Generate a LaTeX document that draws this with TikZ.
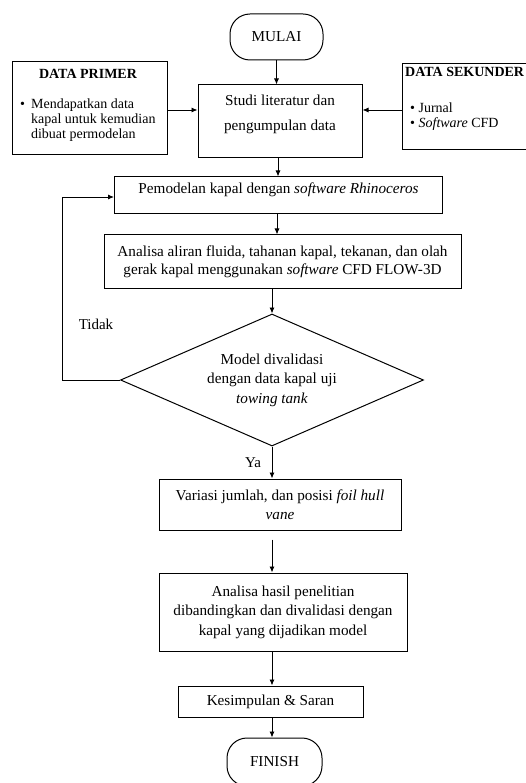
\documentclass[tikz,border=0pt]{standalone}
\usepackage{fontspec}
\setmainfont{Liberation Serif}
\usetikzlibrary{calc}
\usetikzlibrary{positioning}
\usetikzlibrary{arrows.meta}
\usetikzlibrary{shapes.geometric}

\tikzset{
    kotak/.style={draw, line width=1pt, inner sep=0pt, align=center,
        font=\fontsize{15.2}{19.5}\selectfont},
    terminal/.style={kotak, rounded corners=20pt},
    keputusan/.style={kotak, diamond, aspect=2.3},
    panah/.style={line width=0.9pt, -{Latex[length=6pt,width=5pt]}},
    judul/.style={inner sep=0pt, font=\fontsize{14}{16}\selectfont\bfseries},
    isi/.style={inner sep=0pt, align=left, font=\fontsize{14}{15}\selectfont},
    ket/.style={inner sep=0pt, font=\fontsize{15}{17}\selectfont}
}

\begin{document}
\begin{tikzpicture}[x=1pt,y=-1pt]
                \useasboundingbox (0,0) rectangle (525,783);

                \node[terminal, minimum width=93pt, minimum height=46pt] (mulai) at (276.5,37) {MULAI};
                \node[kotak, minimum width=155pt, minimum height=93pt] (primer) at (89.5,108.5) {};
                \node[kotak, minimum width=164pt, minimum height=73pt, text depth=17pt, font=\fontsize{15.2}{25}\selectfont] (studi) at (280,121.5) {Studi literatur dan\\pengumpulan data};
                \node[kotak, minimum width=128pt, minimum height=86pt] (sekunder) at (466,107) {};

                \node[judul] (judulprimer) at (88,74) {DATA PRIMER};
                \node[isi, anchor=west] (isiprimer) at (20,120) {\textbullet\hspace{6pt}Mendapatkan data\\\phantom{\textbullet}\hspace{6pt}kapal untuk kemudian\\\phantom{\textbullet}\hspace{6pt}dibuat permodelan};
                \node[judul, anchor=west] (judulsekunder) at (405,72) {DATA SEKUNDER};
                \node[isi, anchor=west] (isisekunder) at (410,117) {\textbullet\ Jurnal\\\textbullet\ \textit{Software} CFD};

                \node[kotak, minimum width=328pt, minimum height=37pt, text depth=14pt] (pemodel) at (278.5,195.5) {Pemodelan kapal dengan \textit{software Rhinoceros}};
                \node[kotak, minimum width=357pt, minimum height=53pt, font=\fontsize{15.2}{18}\selectfont] (analisa) at (282.5,261.5) {Analisa aliran fluida, tahanan kapal, tekanan, dan olah\\gerak kapal menggunakan \textit{software} CFD FLOW-3D};
                \node[keputusan, minimum width=303pt, minimum height=132pt] (valid) at (272,380) {Model divalidasi\\dengan data kapal uji\\\textit{towing tank}};
                \node[kotak, minimum width=242pt, minimum height=51pt] (variasi) at (280,504.5) {Variasi jumlah, dan posisi \textit{foil hull}\\\textit{vane}};
                \node[kotak, minimum width=248pt, minimum height=78pt] (hasil) at (283,612) {Analisa hasil penelitian\\dibandingkan dan divalidasi dengan\\kapal yang dijadikan model};
                \node[kotak, minimum width=185pt, minimum height=31pt] (simpul) at (270.5,701.5) {Kesimpulan \& Saran};
                \node[terminal, minimum width=95pt, minimum height=48pt] (finish) at (274.5,762) {FINISH};

                \node[ket] (ya) at (253,463) {Ya};
                \node[ket] (tidak) at (96,324) {Tidak};
                \coordinate (belok) at (62,197);

                \draw[panah] (mulai.south) -- (mulai.south |- studi.north);
                \draw[panah] (primer.east |- 0,110) -- (studi.west |- 0,110);
                \draw[panah] (sekunder.west |- 0,110) -- (studi.east |- 0,110);
                \draw[panah] (studi.south -| 278,0) -- (pemodel.north -| 278,0);
                \draw[panah] (pemodel.south -| 277,0) -- (analisa.north -| 277,0);
                \draw[panah] (analisa.south -| valid.north) -- (valid.north);
                \draw[panah] (valid.south) -- (valid.south |- variasi.north);
                \draw[panah] ($(variasi.south -| valid.south)+(0,9)$) -- (valid.south |- hasil.north);
                \draw[panah] (hasil.south -| valid.south) -- (valid.south |- simpul.north);
                \draw[panah] (simpul.south -| valid.south) -- (valid.south |- finish.north);
                \draw[panah] (valid.west) -| (belok) -- (pemodel.west |- belok);
\end{tikzpicture}
\end{document}
